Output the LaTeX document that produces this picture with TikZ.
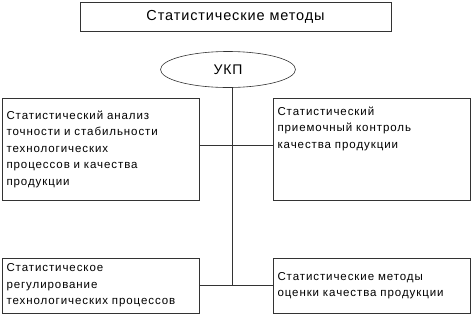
\documentclass[tikz,border=0pt]{standalone}
\usepackage{fontspec}
\setmainfont{Liberation Sans}
\newfontfamily\boxfont[LetterSpace=8]{Liberation Sans}
\newfontfamily\titlefont[LetterSpace=6]{Liberation Sans}
\usetikzlibrary{positioning,shapes.geometric}

\begin{document}
\begin{tikzpicture}[
  x=1pt,y=-1pt,
  frame/.style={draw=black!80,line width=0.6pt,inner sep=4pt,align=left,
    minimum width=197pt,text width=189pt,font=\boxfont\fontsize{11.5}{16.5}\selectfont},
  link/.style={draw=black!80,line width=0.6pt}
]
  \useasboundingbox (0,0) rectangle (473,317);
  \node[draw=black!80,line width=0.6pt,minimum width=311pt,minimum height=29pt,
    font=\titlefont\fontsize{14.5}{16}\selectfont] (title) at (235.5,16.5) {Статистические методы};
  \node[ellipse,draw=black!80,line width=0.6pt,minimum width=135pt,minimum height=36pt,
    font=\titlefont\fontsize{14}{16}\selectfont] (ukp) at (228,69.5) {УКП};
  \node[frame,minimum height=102pt] (lt) at (101,149) {Статистический анализ\\точности и стабильности\\технологических\\процессов и качества\\продукции};
  \node[frame,minimum height=102pt,text height=13pt,text depth=81pt] (rt) at (372,149) {Статистический\\приемочный контроль\\качества продукции};
  \node[frame,minimum height=55pt] (lb) at (101,285.5) {Статистическое\\регулирование\\технологических процессов};
  \node[frame,minimum height=55pt] (rb) at (372,285.5) {Статистические методы\\оценки качества продукции};
  \coordinate (hub) at (232,285);
  \draw[link] (ukp.south -| hub) -- (hub);
  \draw[link] ([yshift=4pt]lt.east) -- ([yshift=4pt]lt.east -| rt.west);
  \draw[link] (lb.east) -- (rb.west);
\end{tikzpicture}
\end{document}
